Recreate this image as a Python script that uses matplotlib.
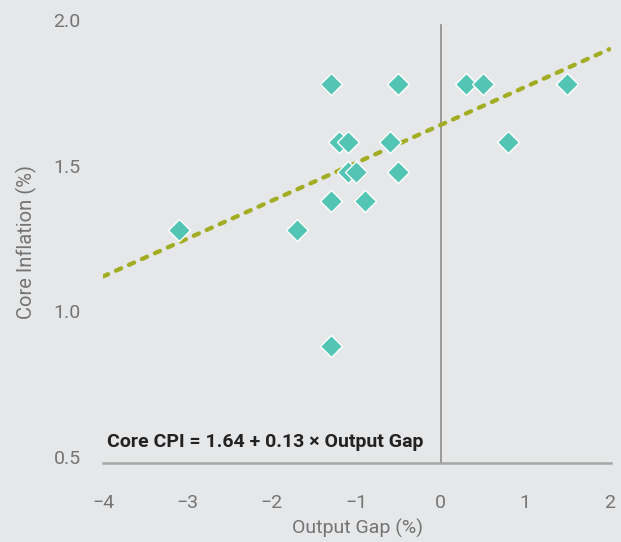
import matplotlib.pyplot as plt
import numpy as np

# Data
output_gap = [-3.1, -1.7, -1.3, -1.3, -1.3, -1.2, -1.1, -1.1, -1.0, -0.9,
              -0.6, -0.5, -0.5, 0.3, 0.5, 0.8, 1.5]
core_infl = [1.28, 1.28, 1.78, 1.38, 0.88, 1.58, 1.58, 1.48, 1.48, 1.38,
             1.58, 1.78, 1.48, 1.78, 1.78, 1.58, 1.78]
intercept = 1.64
slope = 0.13
x_ticks = [-4, -3, -2, -1, 0, 1, 2]
y_ticks = [0.5, 1.0, 1.5, 2.0]

bg = '#e6e7e9'
fig = plt.figure(figsize=(6.21, 5.42), dpi=100, facecolor=bg)
ax = fig.add_axes([0.1659, 0.1458, 0.8181, 0.8172], facecolor=bg)

font = 'Roboto'
label_color = '#747474'

# Regression line
xfit = np.array([x_ticks[0], x_ticks[-1]])
ax.plot(xfit, intercept + slope * xfit, color='#a3ad24', lw=3.1,
        dashes=(1.3, 2.0), dash_capstyle='round', zorder=2)

# Vertical zero line
ax.plot([0, 0], [0.48, 1.983], color='#8c8c8c', lw=1.2, zorder=1)

# Scatter points
ax.plot(output_gap, core_infl, linestyle='none', marker='D', ms=11.2,
        markerfacecolor='#52c5b4', markeredgecolor='white', mew=1.0, zorder=3)

ax.set_xlim(-4, 2.02)
ax.set_ylim(0.48, 2.0)
ax.set_xticks(x_ticks)
ax.set_xticklabels([f'{t}'.replace('-', '\u2212') for t in x_ticks])
ax.set_yticks(y_ticks)
ax.set_yticklabels([f'{t:.1f}' for t in y_ticks])
ax.tick_params(axis='both', length=0, labelsize=14, labelcolor=label_color)
ax.tick_params(axis='x', pad=22)
ax.tick_params(axis='y', pad=16)
for lab in ax.get_xticklabels() + ax.get_yticklabels():
    lab.set_family(font)

for side in ['top', 'right', 'left']:
    ax.spines[side].set_visible(False)
ax.spines['bottom'].set_color('#a6a6a6')
ax.spines['bottom'].set_linewidth(1.8)

ax.set_xlabel('Output Gap (%)', fontsize=14, color=label_color,
              family=font, labelpad=5)
ax.set_ylabel('Core Inflation (%)', fontsize=14.5, color=label_color,
              family=font, labelpad=12)

ax.text(-3.95, 0.553, 'Core CPI = 1.64 + 0.13 \u00d7 Output Gap',
        fontsize=14, fontweight='bold', family=font, color='#222222',
        ha='left', va='center')

fig.savefig('out.png', dpi=100, facecolor=bg)
